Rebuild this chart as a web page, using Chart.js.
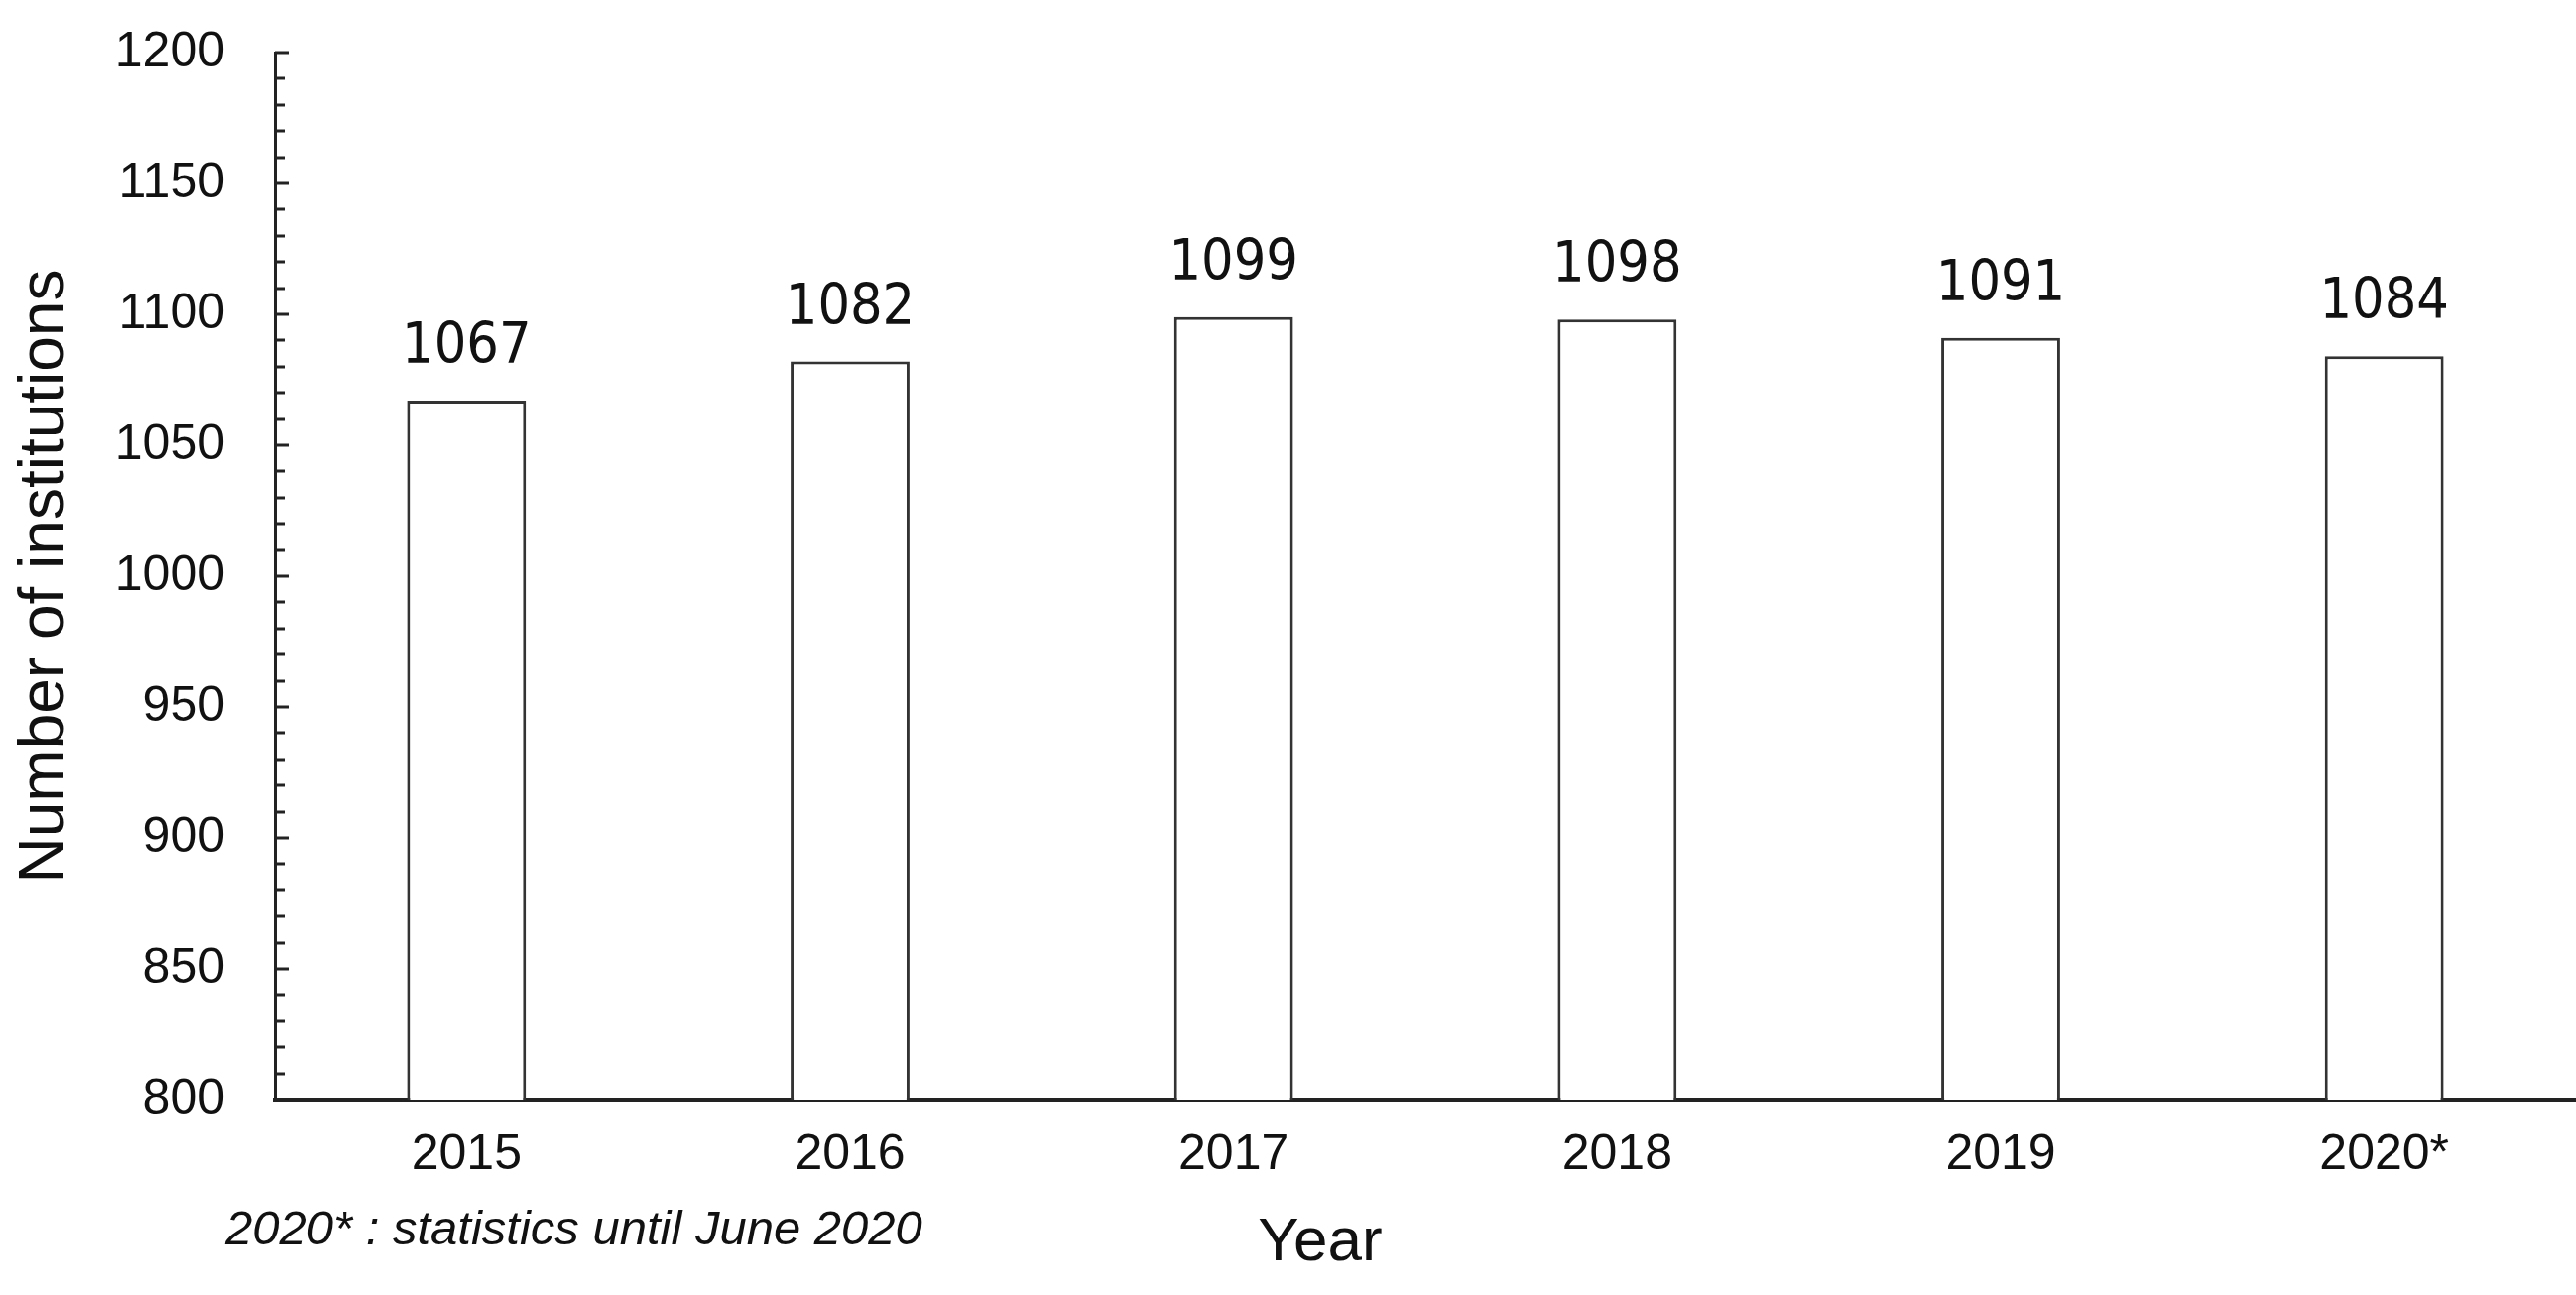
<!DOCTYPE html>
<html>
<head>
<meta charset="utf-8">
<script src="https://cdn.jsdelivr.net/npm/chart.js@4.4.1/dist/chart.umd.min.js"></script>
<style>
    body { margin: 0; background: #fff; }
    #wrap { width: 2597px; height: 1306px; }
</style>
</head>
<body>
<div id="wrap"><canvas id="barChart" width="2597" height="1306"></canvas></div>
<script>
var years = ["2015", "2016", "2017", "2018", "2019", "2020*"];
var institutions = [1067, 1082, 1099, 1098, 1091, 1084];
var yMin = 800;
var yMax = 1200;
var yStep = 50;
var minorStep = 10;
var footNote = "2020* : statistics until June 2020";
var xTitle = "Year";
var yTitle = "Number of institutions";

var armFont = "'Liberation Sans', Arial, sans-serif";

// small inward ticks on the y axis, every 10
var minorTicks = {
    id: 'minorTicks',
    afterDraw: function (chart) {
        var ctx = chart.ctx;
        var y = chart.scales.y;
        var left = chart.chartArea.left;
        ctx.save();
        ctx.strokeStyle = '#222';
        ctx.lineWidth = 3;
        for (var v = yMin + minorStep; v <= yMax; v += minorStep) {
            var py = Math.round(y.getPixelForValue(v));
            var len = (v % yStep === 0) ? 14 : 10;
            ctx.beginPath();
            ctx.moveTo(left, py);
            ctx.lineTo(left + len, py);
            ctx.stroke();
        }
        ctx.restore();
    }
};

// value above each bar
var valueLabels = {
    id: 'valueLabels',
    afterDatasetsDraw: function (chart) {
        var ctx = chart.ctx;
        var meta = chart.getDatasetMeta(0);
        ctx.save();
        ctx.fillStyle = '#111';
        ctx.font = "57px 'DejaVu Sans Condensed', 'DejaVu Sans', sans-serif";
        ctx.textAlign = 'center';
        ctx.textBaseline = 'alphabetic';
        meta.data.forEach(function (bar, i) {
            ctx.fillText(String(institutions[i]), bar.x, bar.y - 38);
        });
        ctx.restore();
    }
};

// footnote and x title
var notes = {
    id: 'notes',
    afterDraw: function (chart) {
        var ctx = chart.ctx;
        ctx.save();
        ctx.fillStyle = '#111';
        ctx.textBaseline = 'middle';
        ctx.textAlign = 'left';
        ctx.font = "italic 49px " + armFont;
        ctx.fillText(footNote, 227, 1241);
        ctx.textAlign = 'center';
        ctx.font = "62px " + armFont;
        ctx.fillText(xTitle, 1331, 1254);
        ctx.restore();
    }
};

var ctx = document.getElementById("barChart").getContext("2d");
new Chart(ctx, {
    type: 'bar',
    data: {
        labels: years,
        datasets: [{
            label: yTitle,
            data: institutions,
            backgroundColor: '#ffffff',
            borderColor: '#333333',
            borderWidth: 3,
            categoryPercentage: 1,
            barPercentage: 0.31
        }]
    },
    options: {
        responsive: false,
        devicePixelRatio: 1,
        animation: false,
        layout: { padding: { left: 0, right: 0, top: 53, bottom: 85 } },
        plugins: {
            legend: { display: false },
            tooltip: { enabled: false }
        },
        scales: {
            x: {
                grid: { display: false, drawTicks: false, tickLength: 0 },
                border: { display: true, color: '#222', width: 4 },
                ticks: {
                    color: '#111',
                    font: { family: armFont, size: 50 },
                    padding: 26,
                    maxRotation: 0
                }
            },
            y: {
                min: yMin,
                max: yMax,
                afterFit: function (scale) {
                    scale.width = 277;
                    scale.paddingTop = 0;
                },
                grid: { display: false, drawTicks: false, tickLength: 0 },
                border: { display: true, color: '#222', width: 3 },
                ticks: {
                    stepSize: yStep,
                    color: '#111',
                    font: { family: armFont, size: 50 },
                    padding: 50,
                    callback: function (value) { return String(value); }
                },
                title: {
                    display: true,
                    text: yTitle,
                    color: '#111',
                    font: { family: armFont, size: 64 },
                    padding: { top: 8, bottom: 0 }
                }
            }
        }
    },
    plugins: [minorTicks, valueLabels, notes]
});
</script>
</body>
</html>
